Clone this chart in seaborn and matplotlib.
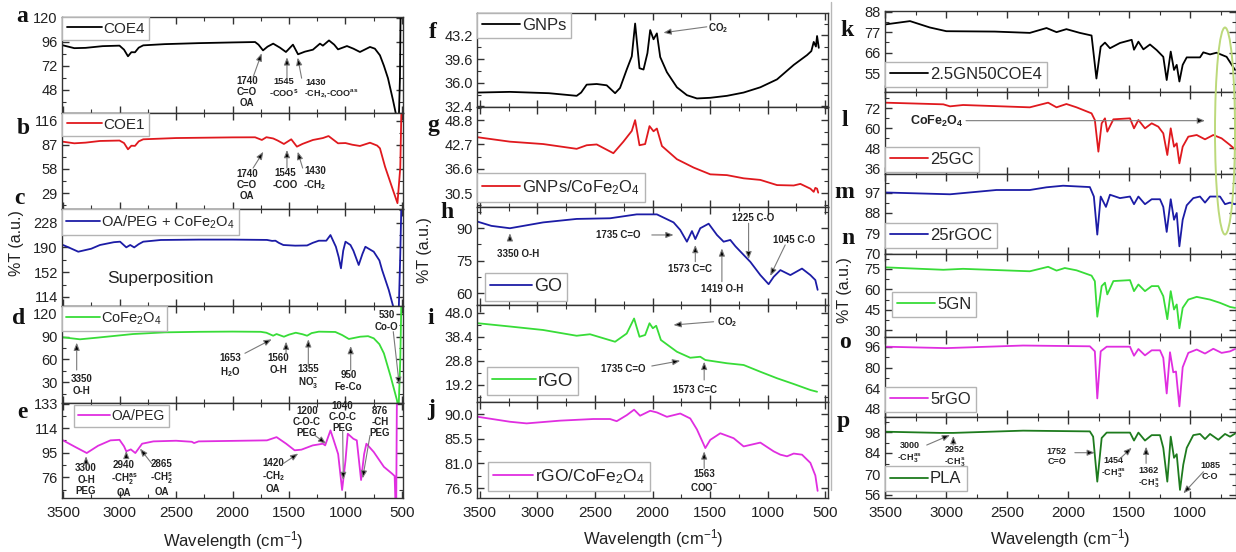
import matplotlib
matplotlib.use("Agg")
import matplotlib.pyplot as plt
from matplotlib.ticker import MultipleLocator, AutoMinorLocator
from matplotlib.patches import Ellipse
from matplotlib.lines import Line2D
import seaborn as sns

# ---------------- spectra (wavenumber in cm-1, transmittance in %) ----------------
COE4_WN = [3500, 3400, 3300, 3150, 3000, 2960, 2925, 2895, 2863, 2830, 2790, 2600, 2300, 2000, 1800,
           1770, 1730, 1690, 1640, 1580, 1527, 1465, 1420, 1360, 1288, 1226, 1200, 1146, 1100, 1066,
           987, 930, 872, 783, 740, 695, 660, 624, 580, 550, 530, 518, 512]
COE4_T = [92.3, 89.5, 89.8, 91.5, 92, 88, 81.4, 85.5, 85.4, 90, 92.3, 93.5, 94.5, 95.2, 95.6,
          93, 87.3, 91, 94, 90, 85.7, 93, 83.4, 86, 88, 94, 92, 97.2, 93, 88.3,
          91.6, 89, 85.7, 90.7, 89, 82.4, 72, 59.6, 38, 22, 10, 60, 130]

COE1_WN = [3500, 3400, 3300, 3173, 3000, 2960, 2925, 2895, 2863, 2830, 2790, 2500, 2000, 1800, 1740,
           1700, 1640, 1600, 1545, 1480, 1430, 1380, 1288, 1200, 1150, 1066, 1000, 940, 872, 783,
           720, 695, 650, 580, 540, 515, 505]
COE1_T = [90.6, 88.7, 89.5, 91.5, 92, 89, 81.5, 85.8, 85.6, 91, 93.5, 95, 95.8, 95.9, 92.7,
          96, 94.5, 92, 87.9, 93.5, 84.7, 88, 92.7, 95, 97.4, 88.7, 89, 87, 85.5, 89.4,
          86, 82.7, 60.7, 32.8, 17, 60, 130]

OAPEG_FE_WN = [3500, 3450, 3365, 3250, 3173, 3050, 2995, 2940, 2905, 2870, 2830, 2790, 2635, 2300, 2000,
               1695, 1650, 1620, 1590, 1550, 1445, 1340, 1290, 1236, 1170, 1133, 1085, 1060, 1040, 1020,
               1000, 956, 930, 883, 850, 824, 750, 700, 676, 617, 579, 560, 530, 515, 505]
OAPEG_FE_T = [193.7, 190, 183.4, 188, 193.7, 198, 198.8, 190.1, 193.7, 190, 195, 198.8, 201.4, 202, 202,
              201.5, 200, 200.3, 197, 193.7, 192.7, 193, 197, 200.3, 200.3, 209, 191, 175, 157.9, 185,
              198.8, 193.7, 185, 163, 180, 191, 183.4, 170, 155.3, 124.6, 100, 85, 85, 180, 260]

COFE_WN = [3500, 3350, 3200, 3000, 2880, 2600, 2300, 2000, 1750, 1700, 1640, 1610, 1545, 1500, 1440,
           1380, 1340, 1300, 1236, 1090, 1030, 970, 870, 800, 750, 700, 660, 600, 545, 530, 515, 505]
COFE_T = [89, 86.4, 88.5, 91.5, 93.3, 95.5, 96.2, 96.5, 96.2, 95, 91.1, 93.3, 89.8, 92.5, 95,
          93, 91.1, 94.5, 96.4, 96, 92, 86.8, 89.8, 90.5, 87.7, 80, 68, 37.5, 7, -5, 60, 140]

OAPEG_WN = [3500, 3390, 3290, 3190, 3080, 3000, 2960, 2940, 2900, 2860, 2800, 2700, 2500, 2360, 2340,
            2300, 2000, 1695, 1610, 1525, 1450, 1390, 1290, 1200, 1180, 1133, 1104, 1065, 1030, 1000,
            980, 930, 900, 862, 835, 815, 750, 660, 590, 565, 552, 545]
OAPEG_T = [104.6, 99.4, 94.8, 100.4, 104.6, 105, 100, 96.1, 97.6, 94.8, 102, 103.8, 104.3, 103.5, 102.5,
           103.8, 104.2, 104.6, 107.1, 102, 96.9, 97.4, 100.7, 102, 100.7, 112.3, 104.6, 94, 66.2, 89,
           109.7, 105.8, 104.6, 73.9, 94, 102, 95.6, 84.1, 79, 77, 40, 140]

GNP_WN = [3517, 3239, 2900, 2659, 2620, 2572, 2485, 2398, 2325, 2282, 2224, 2180, 2151, 2113, 2078,
          2044, 2020, 1991, 1962, 1933, 1875, 1788, 1701, 1614, 1498, 1353, 1208, 1063, 918, 773,
          657, 620, 599, 580, 570, 555]
GNP_T = [34.5, 34.6, 34.4, 34.0, 34.5, 35.7, 35.8, 35.6, 34.4, 35.2, 38, 40.0, 45.0, 38.2, 38,
         40.5, 44.0, 42.6, 43.5, 39.9, 37.6, 35.3, 34.1, 33.6, 33.7, 34.0, 34.5, 35.3, 36.5, 38.7,
         40.2, 40.8, 42.2, 41.5, 43.1, 41.3]

GNP_FE_WN = [3517, 3239, 2950, 2659, 2572, 2485, 2340, 2253, 2180, 2151, 2113, 2064, 2026, 1991, 1962,
             1918, 1788, 1643, 1498, 1353, 1208, 1063, 918, 773, 715, 628, 599, 585, 570, 560]
GNP_FE_T = [44.5, 43.4, 42.8, 41.6, 42.5, 42.7, 40.5, 43.4, 46.1, 48.8, 42.5, 42.8, 47.3, 46.0, 46.7,
            42.3, 39.0, 36.9, 35.2, 35.0, 34.2, 33.8, 32.5, 32.4, 32.8, 31.6, 30.8, 31.8, 31.6, 30.6]

GO_WN = [3517, 3400, 3239, 2950, 2659, 2369, 2137, 1962, 1817, 1759, 1701, 1657, 1628, 1585, 1512,
         1440, 1382, 1324, 1280, 1208, 1150, 1063, 991, 947, 889, 802, 701, 628, 585, 565]
GO_T = [92.9, 91, 89.9, 92.6, 94.2, 94.5, 96.3, 96.3, 92.6, 89.1, 83.7, 88.6, 84.9, 89.9, 92.0,
        86.8, 83.7, 84.5, 81.6, 77.6, 74.4, 68.3, 64.1, 67.5, 70.6, 68.3, 71.3, 68.3, 66.0, 61.5]

RGO_WN = [3517, 3239, 2950, 2659, 2543, 2325, 2224, 2160, 2113, 2064, 2026, 1997, 1968, 1927, 1788,
          1672, 1585, 1541, 1353, 1208, 1063, 918, 773, 628, 570]
RGO_T = [43.9, 42.6, 41.2, 38.9, 39.5, 36.5, 39.8, 45.8, 38.5, 39.2, 43.9, 41.9, 42.9, 37.2, 32.5,
         30.1, 30.5, 29.2, 27.9, 27.2, 24.5, 21.9, 19.6, 17.2, 16.5]

RGO_FE_WN = [3517, 3239, 3094, 2804, 2514, 2369, 2311, 2224, 2160, 2108, 2020, 1962, 1875, 1759, 1672,
             1614, 1541, 1498, 1411, 1295, 1208, 1063, 947, 889, 831, 773, 701, 628, 585, 565]
RGO_FE_T = [89.5, 88.6, 88.3, 88.8, 89.1, 89.1, 88.7, 89.8, 90.8, 89.7, 90.6, 90.3, 89.5, 90.1, 89.2,
            87.2, 83.8, 85.3, 86.5, 85.6, 84.1, 84.8, 83.2, 82.6, 82.3, 82.8, 82.6, 81.1, 78.8, 76.0]

GN50_WN = [3500, 3295, 3133, 2997, 2600, 2313, 2176, 2094, 2013, 1903, 1807, 1767, 1732, 1697, 1656,
           1574, 1478, 1459, 1423, 1382, 1328, 1273, 1219, 1191, 1158, 1131, 1109, 1087, 1060, 1027,
           918, 891, 836, 782, 700, 631]
GN50_T = [81.1, 82.9, 79.5, 77.5, 77.3, 76.6, 79.2, 77.0, 78.6, 76.6, 75.2, 52.2, 69.2, 71.4, 68.4,
          71.2, 72.9, 67.6, 71.9, 67.8, 70.4, 67.4, 63.8, 51.4, 66.6, 56.8, 59.5, 50.6, 59.5, 63.5,
          63.5, 66.2, 65.1, 66.0, 63.8, 56.8]

GC25_WN = [3500, 3022, 2967, 2860, 2313, 2163, 2094, 2013, 1930, 1807, 1780, 1751, 1724, 1697, 1678,
           1628, 1492, 1459, 1423, 1369, 1314, 1260, 1219, 1186, 1158, 1131, 1109, 1087, 1060, 1014,
           945, 877, 809, 741, 672, 631]
GC25_T = [75.2, 74.2, 73, 73.8, 72.4, 75.2, 72.4, 74.4, 72.4, 68.8, 64.8, 45.8, 62.8, 65.8, 57.8,
          65.2, 65.8, 59.8, 64.8, 59.8, 62.8, 60.8, 56.8, 43.8, 59.8, 48.8, 50.8, 38.8, 48.8, 54.8,
          55.8, 53.2, 55.8, 53.8, 49.8, 47.2]

RGOC25_WN = [3500, 2967, 2587, 2313, 2176, 2040, 1821, 1788, 1760, 1732, 1689, 1656, 1574, 1492, 1459,
             1423, 1369, 1314, 1246, 1219, 1191, 1158, 1131, 1109, 1087, 1060, 1027, 973, 918, 877,
             836, 754, 713, 672, 631]
RGOC25_T = [97.1, 96.3, 98.2, 98.2, 99.4, 100.1, 99.5, 95.3, 78.4, 95.3, 90.7, 96.1, 94.6, 95.3, 91.9,
            95.3, 91.9, 94.1, 94.1, 90.7, 79.6, 94.1, 85.0, 88.0, 73.2, 85.0, 91.4, 94.6, 95.3, 92.6,
            95.3, 95.3, 91.9, 92.6, 91.9]

GN5_WN = [3500, 3022, 2860, 2313, 2163, 2094, 2026, 1930, 1807, 1780, 1760, 1724, 1697, 1678, 1628,
          1492, 1459, 1423, 1369, 1314, 1260, 1219, 1186, 1158, 1131, 1109, 1087, 1060, 1014, 945,
          836, 754, 672, 631]
GN5_T = [76.2, 74.4, 75.1, 73.3, 76.6, 73.8, 75.7, 74, 70.1, 66, 39.9, 62.4, 64.9, 56.3, 66.1,
         66.8, 58.7, 63.6, 58.7, 62.4, 62.4, 55.0, 38.1, 58.7, 45.2, 48.9, 31.4, 46.4, 52.5, 54.5,
         52.5, 50.1, 47.1, 46.4]

RGO5_WN = [3500, 2997, 2368, 1821, 1780, 1760, 1732, 1683, 1492, 1459, 1423, 1369, 1314, 1246, 1219,
           1191, 1164, 1137, 1115, 1087, 1060, 1014, 945, 877, 809, 741, 672, 631]
RGO5_T = [96.2, 95.1, 97.1, 96.5, 92.6, 56.2, 92.6, 96.2, 96.2, 89.2, 94.4, 89.5, 93.4, 93.4, 87.6,
          60, 91.9, 76.4, 77, 50, 80.3, 91.4, 94, 90.9, 94.6, 91.4, 92.6, 94.4]

PLA_WN = [3500, 3049, 2940, 2368, 1821, 1794, 1760, 1724, 1683, 1492, 1459, 1423, 1369, 1314, 1246,
          1219, 1186, 1158, 1131, 1109, 1082, 1055, 1027, 973, 918, 877, 836, 768, 713, 672, 631]
PLA_T = [98.2, 97.4, 97.4, 98.9, 98.4, 94.9, 64.9, 94, 97.6, 97.6, 92.3, 97.6, 92.3, 95.9, 95.9,
         87.4, 64.9, 94.9, 80.8, 83.2, 59.4, 76.3, 87.4, 95.9, 96.7, 93.3, 96.7, 92.8, 96.7, 94.9, 96.9]

# ---------------- y tick labels of each panel ----------------
A_YTICKS = ["48", "72", "96", "120"]
B_YTICKS = ["29", "58", "87", "116"]
C_YTICKS = ["114", "152", "190", "228"]
D_YTICKS = ["30", "60", "90", "120"]
E_YTICKS = ["76", "95", "114", "133"]
F_YTICKS = ["32.4", "36.0", "39.6", "43.2"]
G_YTICKS = ["30.5", "36.6", "42.7", "48.8"]
H_YTICKS = ["60", "75", "90"]
I_YTICKS = ["19.2", "28.8", "38.4", "48.0"]
J_YTICKS = ["76.5", "81.0", "85.5", "90.0"]
K_YTICKS = ["55", "66", "77", "88"]
L_YTICKS = ["36", "48", "60", "72"]
M_YTICKS = ["70", "79", "88", "97"]
N_YTICKS = ["30", "45", "60", "75"]
O_YTICKS = ["48", "64", "80", "96"]
P_YTICKS = ["56", "70", "84", "98"]

X_TICKS = [3500, 3000, 2500, 2000, 1500, 1000, 500]

# ---------------- styling ----------------
sns.set_style("ticks")
plt.rcParams["font.family"] = ["Liberation Sans", "DejaVu Sans"]
plt.rcParams.update({
    "mathtext.fontset": "custom",
    "mathtext.rm": "Liberation Sans",
    "mathtext.it": "Liberation Sans:italic",
    "mathtext.bf": "Liberation Sans:bold",
    "mathtext.default": "regular",
    "axes.edgecolor": "#333333",
    "axes.linewidth": 1.0,
})

BLACK = "#000000"
RED = "#e0191e"
BLUE = "#1c1ca6"
GREEN = "#38dc38"
MAGENTA = "#e02ee0"
DKGREEN = "#1e7b1e"
ARROW_GRAY = "#7a7a7a"

W, H = 1236, 552
fig = plt.figure(figsize=(W / 100, H / 100), dpi=100)


def add_ax(x0, x1, y0, y1):
    return fig.add_axes([x0 / W, 1 - y1 / H, (x1 - x0) / W, (y1 - y0) / H])


COLUMNS = [
    dict(x0=62, x1=403, xlim=(3509, 491), edges=[17, 113, 209, 306, 403, 498]),
    dict(x0=477, x1=828, xlim=(3525, 475), edges=[13, 107, 207, 305, 402, 498]),
    dict(x0=885, x1=1236, xlim=(3500, 623), edges=[11, 92, 174, 254, 337, 417, 498]),
]

PANELS = [
    # column 0
    dict(key="a", col=0, wn=COE4_WN, t=COE4_T, color=BLACK, label="COE4", ylim=(25, 120.5),
         ticks=A_YTICKS, leg=(0.0, 1.0), lfs=11),
    dict(key="b", col=0, wn=COE1_WN, t=COE1_T, color=RED, label="COE1", ylim=(10, 125),
         ticks=B_YTICKS, leg=(0.0, 1.0), lfs=11),
    dict(key="c", col=0, wn=OAPEG_FE_WN, t=OAPEG_FE_T, color=BLUE, label="OA/PEG + CoFe$_2$O$_4$",
         ylim=(100, 249), ticks=C_YTICKS, leg=(0.0, 1.0), lfs=10.5),
    dict(key="d", col=0, wn=COFE_WN, t=COFE_T, color=GREEN, label="CoFe$_2$O$_4$", ylim=(3, 130),
         ticks=D_YTICKS, leg=(0.0, 1.0), lfs=10.5),
    dict(key="e", col=0, wn=OAPEG_WN, t=OAPEG_T, color=MAGENTA, label="OA/PEG", ylim=(60, 133.5),
         ticks=E_YTICKS, leg=(0.035, 0.98), lfs=10),
    # column 1
    dict(key="f", col=1, wn=GNP_WN, t=GNP_T, color=BLACK, label="GNPs", ylim=(32.3, 46.6),
         ticks=F_YTICKS, leg=(0.0, 1.0), lfs=12),
    dict(key="g", col=1, wn=GNP_FE_WN, t=GNP_FE_T, color=RED, label="GNPs/CoFe$_2$O$_4$", ylim=(27, 52.1),
         ticks=G_YTICKS, leg=(0.0, 0.34), lfs=12),
    dict(key="h", col=1, wn=GO_WN, t=GO_T, color=BLUE, label="GO", ylim=(54.5, 99.7),
         ticks=H_YTICKS, leg=(0.023, 0.327), lfs=13),
    dict(key="i", col=1, wn=RGO_WN, t=RGO_T, color=GREEN, label="rGO", ylim=(12.4, 51.2),
         ticks=I_YTICKS, leg=(0.028, 0.36), lfs=13.5),
    dict(key="j", col=1, wn=RGO_FE_WN, t=RGO_FE_T, color=MAGENTA, label="rGO/CoFe$_2$O$_4$", ylim=(74.7, 92.2),
         ticks=J_YTICKS, leg=(0.031, 0.375), lfs=12.5),
    # column 2
    dict(key="k", col=2, wn=GN50_WN, t=GN50_T, color=BLACK, label="2.5GN50COE4", ylim=(45, 88.3),
         ticks=K_YTICKS, leg=(0.0, 0.37), lfs=12),
    dict(key="l", col=2, wn=GC25_WN, t=GC25_T, color=RED, label="25GC", ylim=(32.4, 81.6),
         ticks=L_YTICKS, leg=(0.0, 0.33), lfs=12),
    dict(key="m", col=2, wn=RGOC25_WN, t=RGOC25_T, color=BLUE, label="25rGOC", ylim=(69.8, 105.3),
         ticks=M_YTICKS, leg=(0.0, 0.39), lfs=12),
    dict(key="n", col=2, wn=GN5_WN, t=GN5_T, color=GREEN, label="5GN", ylim=(25, 86),
         ticks=N_YTICKS, leg=(0.02, 0.54), lfs=12),
    dict(key="o", col=2, wn=RGO5_WN, t=RGO5_T, color=MAGENTA, label="5rGO", ylim=(41.8, 103.7),
         ticks=O_YTICKS, leg=(0.0, 0.375), lfs=12),
    dict(key="p", col=2, wn=PLA_WN, t=PLA_T, color=DKGREEN, label="PLA", ylim=(54, 108),
         ticks=P_YTICKS, leg=(0.0, 0.39), lfs=12),
]

axes = {}
row_counter = {0: 0, 1: 0, 2: 0}
for p in PANELS:
    col = COLUMNS[p["col"]]
    r = row_counter[p["col"]]
    row_counter[p["col"]] += 1
    y0, y1 = col["edges"][r], col["edges"][r + 1]
    ax = add_ax(col["x0"], col["x1"], y0, y1)
    axes[p["key"]] = ax

    sns.lineplot(x=p["wn"], y=p["t"], ax=ax, color=p["color"], linewidth=1.3,
                 label=p["label"], estimator=None, sort=False)

    ax.set_xlim(*col["xlim"])
    ax.set_ylim(*p["ylim"])
    ax.set_yticks([float(s) for s in p["ticks"]], labels=p["ticks"])
    ax.yaxis.set_minor_locator(AutoMinorLocator(2))
    ax.set_xticks(X_TICKS)
    ax.xaxis.set_minor_locator(MultipleLocator(250))
    ax.set_xlim(*col["xlim"])
    ax.set_xlabel("")
    ax.set_ylabel("")
    ax.tick_params(which="both", direction="in", top=True, right=True, color="#333333")
    ax.tick_params(which="major", length=5, width=1.0)
    ax.tick_params(which="minor", length=3, width=0.8)
    ax.tick_params(axis="y", labelsize=10.5, pad=3, labelcolor="#222222")
    ax.tick_params(axis="x", labelsize=11, pad=6, labelcolor="#222222")
    is_bottom = (r == len(col["edges"]) - 2)
    if not is_bottom:
        ax.tick_params(axis="x", labelbottom=False)

    leg = ax.legend(loc="upper left", bbox_to_anchor=p["leg"], borderaxespad=0,
                    fontsize=p["lfs"], frameon=True, fancybox=False, framealpha=1,
                    edgecolor="#b4b4b4", handlelength=2.3, handletextpad=0.1,
                    borderpad=0.3)
    leg.get_frame().set_linewidth(1.0)
    for line in leg.get_lines():
        line.set_linewidth(1.3)


def note(key, text, txy, tip=None, tail=None, fs=7, ha="center", weight="bold"):
    ax = axes[key]
    ax.text(txy[0], txy[1], text, ha=ha, va="center", fontsize=fs, fontweight=weight,
            color="#222222", linespacing=1.15, zorder=5)
    if tip is not None:
        ax.annotate("", xy=tip, xytext=tail,
                    arrowprops=dict(arrowstyle="-|>,head_length=0.45,head_width=0.18",
                                    fc="black", ec=ARROW_GRAY, lw=0.8,
                                    shrinkA=0, shrinkB=0), zorder=5)


# panel a
note("a", "1740\nC=O\nOA", (1872, 45.7), (1742, 84.4), (1818, 60.6))
note("a", "1545\n-COO$^\\mathbf{s}$", (1545, 49.7), (1518, 80.4), (1518, 59.6), fs=6.7)
note("a", "1430", (1261, 55.6), (1423, 80.1), (1388, 59.6), fs=6.7)
note("a", "-CH$_\\mathbf{2}$,-COO$^\\mathbf{as}$", (1125, 44.8), fs=6.5)
# panel b
note("b", "1740\nC=O\nOA", (1872, 38.7), (1727, 78.6), (1818, 59))
note("b", "1545\n-COO", (1535, 46), (1518, 80.7), (1518, 59))
note("b", "1430\n-CH$_\\mathbf{2}$", (1270, 46), (1423, 78.6), (1379, 59))
# panel c
note("c", "Superposition", (3110, 141.5), fs=12.5, ha="left", weight="normal")
# panel d
note("d", "3350\nO-H", (3335, 26.6), (3379, 82), (3379, 46.2))
note("d", "1653\nH$_\\mathbf{2}$O", (2022, 51.5), (1653, 86.4), (1890, 68.1))
note("d", "1560\nO-H", (1595, 54), (1526, 83.3), (1526, 68.1))
note("d", "1355\nNO$_\\mathbf{3}^\\mathbf{-}$", (1329, 37), (1329, 86.4), (1329, 50.5))
note("d", "950\nFe-Co", (975, 31.8), (954, 77.6), (954, 46.2))
note("d", "530\nCo-O", (635, 110.4), (524, 26.6), (577, 96.4))
# panel e
note("e", "3300\nO-H\nPEG", (3296, 74.2), (3296, 92.3), (3296, 86.7))
note("e", "2940\n-CH$_\\mathbf{2}^\\mathbf{as}$\nOA", (2960, 74.6), (2940, 96.5), (2940, 90.5))
note("e", "2865\n-CH$_\\mathbf{2}^\\mathbf{s}$\nOA", (2627, 75.4), (2819, 98.2), (2715, 86.7))
note("e", "1420\n-CH$_\\mathbf{2}$\nOA", (1639, 77.2), (1418, 94.4), (1550, 86.7))
note("e", "1200\nC-O-C\nPEG", (1343, 118.8), (1172, 102), (1270, 108.4))
note("e", "1040\nC-O-C\nPEG", (1025, 122.5), (1019, 73.9), (1025, 112.3))
note("e", "876\n-CH\nPEG", (695, 118.6), (848, 75.2), (783, 108.4))
# panel f
note("f", "CO$_\\mathbf{2}$", (1427, 44.3), (1905, 43.6), (1528, 44.5))
# panel h
note("h", "3350 O-H", (3167, 78), (3239, 87.6), (3239, 84.5))
note("h", "1735 C=O", (2297, 86.8), (1817, 86.8), (2006, 86.8))
note("h", "1573 C=C", (1673, 71), (1628, 82.2), (1628, 74.5))
note("h", "1419 O-H", (1397, 61.8), (1397, 80.6), (1397, 65.3))
note("h", "1225 C-O", (1122, 94.5), (1165, 75.6), (1165, 92.2))
note("h", "1045 C-O", (774, 84.5), (977, 67.9), (847, 82.2))
# panel i
note("i", "CO$_\\mathbf{2}$", (1354, 44.5), (1818, 43.2), (1469, 44.5))
note("i", "1735 C=O", (2253, 25.5), (1759, 28.9), (2006, 26.8))
note("i", "1573 C=C", (1628, 17.2), (1551, 28.5), (1551, 21.2))
# panel j
note("j", "1563\nCOO$^\\mathbf{-}$", (1551, 77.8), (1551, 83.2), (1551, 80.1))
# panel l
note("l", "CoFe$_\\mathbf{2}$O$_\\mathbf{4}$", (3295, 63.8), (877, 64.4), (2836, 64.4), fs=9, ha="left")
# panel p
note("p", "3000\n-CH$_\\mathbf{3}^\\mathbf{as}$", (3300, 84), (2967, 96), (3158, 89.3), fs=6.5)
note("p", "2952\n-CH$_\\mathbf{3}^\\mathbf{s}$", (2930, 81.5), (2940, 95.3), (2940, 89.2), fs=6.5)
note("p", "1752\nC=O", (2092, 81.5), (1780, 84.2), (1944, 84.2), fs=6.5)
note("p", "1454\n-CH$_\\mathbf{3}^\\mathbf{as}$", (1628, 74), (1478, 87.5), (1601, 78.2), fs=6.5)
note("p", "1362\n-CH$_\\mathbf{3}^\\mathbf{s}$", (1341, 67.6), (1360, 88.2), (1360, 77.1), fs=6.5)
note("p", "1085\nC-O", (835, 72), (1054, 57.1), (890, 71.5), fs=6.5)

# panel letters
LETTERS = {"a": (22, 17), "b": (23, 128), "c": (19, 199), "d": (19, 318), "e": (22, 412),
           "f": (433, 33), "g": (433, 125), "h": (447, 213), "i": (431, 318), "j": (431, 410),
           "k": (847, 30), "l": (845, 120), "m": (844, 192), "n": (848, 238), "o": (845, 342),
           "p": (843, 422)}
for letter, (x, y) in LETTERS.items():
    fig.text(x / W, 1 - y / H, letter, ha="center", va="center", fontsize=17,
             fontweight="bold", family="Liberation Serif", color="#111111")

# axis titles
for (x, y) in [(17, 243), (425, 250), (845, 290)]:
    fig.text(x / W, 1 - y / H, "%T (a.u.)", rotation=90, ha="center", va="center",
             fontsize=11.5, color="#222222")
for (x, y) in [(233, 541), (653, 539), (1060, 539)]:
    fig.text(x / W, 1 - y / H, "Wavelength (cm$^{-1}$)", ha="center", va="center",
             fontsize=12, color="#222222")

# separator at the left of the third column
fig.add_artist(Line2D([831 / W, 831 / W], [1 - 2 / H, 1 - 490 / H], transform=fig.transFigure,
                      color="#b8b8b8", lw=1.0))

# highlight of the ferrite band
fig.add_artist(Ellipse((1225 / W, 1 - 131 / H), 20 / W, 207 / H, transform=fig.transFigure,
                       fill=False, edgecolor="#bcd97a", lw=1.4, zorder=10))

fig.savefig("out.png", dpi=100)
